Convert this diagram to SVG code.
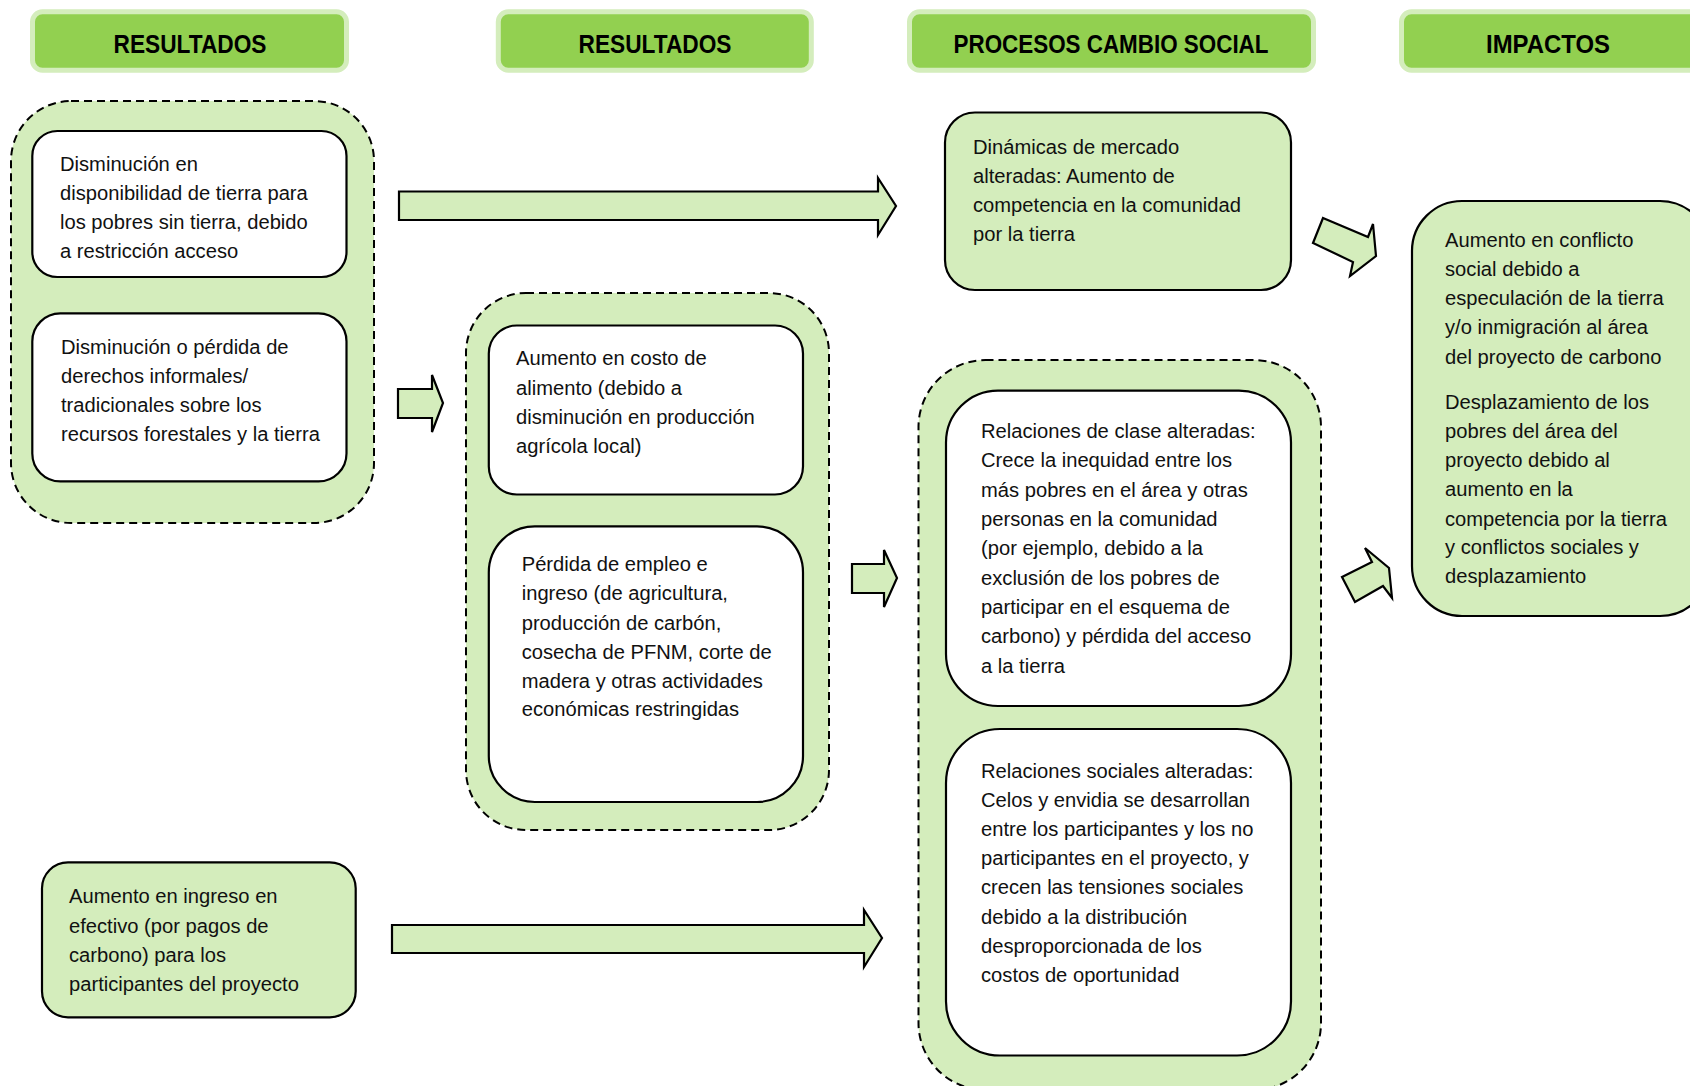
<svg xmlns="http://www.w3.org/2000/svg" width="1690" height="1086" viewBox="0 0 1690 1086">
<style>
.hdr{fill:#92D050;stroke:#D4EDBC;stroke-width:5}
.ht{font-family:"Liberation Sans",Arial,sans-serif;font-weight:bold;font-size:25px;fill:#000;text-anchor:middle}
.cont{fill:#D4EDBC;stroke:#000;stroke-width:2;stroke-dasharray:8 5}
.wb{fill:#FFFFFF;stroke:#000;stroke-width:2.2}
.gb{fill:#D4EDBC;stroke:#000;stroke-width:2.2}
.t{font-family:"Liberation Sans",Arial,sans-serif;font-size:20.8px;fill:#111}
.arr{fill:#D4EDBC;stroke:#000;stroke-width:2.2;stroke-linejoin:miter}
</style>
<rect width="1690" height="1086" fill="#FFFFFF"/>

<g id="header-resultados-1">
<rect class="hdr" x="32.5" y="11.8" width="314" height="58.4" rx="10"/>
<text class="ht" x="190" y="52.6" textLength="153" lengthAdjust="spacingAndGlyphs">RESULTADOS</text>
</g>
<g id="header-resultados-2">
<rect class="hdr" x="498.3" y="11.8" width="313" height="58.4" rx="10"/>
<text class="ht" x="655" y="52.6" textLength="153" lengthAdjust="spacingAndGlyphs">RESULTADOS</text>
</g>
<g id="header-procesos">
<rect class="hdr" x="909.5" y="11.8" width="404" height="58.4" rx="10"/>
<text class="ht" x="1111" y="52.6" textLength="315" lengthAdjust="spacingAndGlyphs">PROCESOS CAMBIO SOCIAL</text>
</g>
<g id="header-impactos">
<rect class="hdr" x="1401.5" y="11.8" width="310" height="58.4" rx="10"/>
<text class="ht" x="1548" y="52.6" textLength="124" lengthAdjust="spacingAndGlyphs">IMPACTOS</text>
</g>

<g id="group-resultados-1">
<rect class="cont" x="11" y="101" width="363" height="422" rx="60"/>
</g>
<g id="group-resultados-2">
<rect class="cont" x="466" y="293" width="363" height="537" rx="60"/>
</g>
<g id="group-procesos">
<rect class="cont" x="918.5" y="360" width="402.5" height="730" rx="67"/>
</g>

<g id="node-disminucion-tierra">
<rect class="wb" x="32.3" y="131" width="314.2" height="146" rx="25"/>
<g transform="matrix(0.97,0,0,1,1.8,0)">
<text class="t" x="60" y="171.4">Disminución en</text>
<text class="t" x="60" y="200.4">disponibilidad de tierra para</text>
<text class="t" x="60" y="229.3">los pobres sin tierra, debido</text>
<text class="t" x="60" y="258">a restricción acceso</text>
</g>
</g>
<g id="node-perdida-derechos">
<rect class="wb" x="32.3" y="313.4" width="314.2" height="168" rx="28"/>
<g transform="matrix(0.97,0,0,1,1.83,0)">
<text class="t" x="61" y="354">Disminución o pérdida de</text>
<text class="t" x="61" y="382.8">derechos informales/</text>
<text class="t" x="61" y="412">tradicionales sobre los</text>
<text class="t" x="61" y="441">recursos forestales y la tierra</text>
</g>
</g>
<g id="node-costo-alimento">
<rect class="wb" x="488.8" y="325.5" width="314.2" height="169" rx="28"/>
<g transform="matrix(0.97,0,0,1,15.48,0)">
<text class="t" x="516" y="365.3">Aumento en costo de</text>
<text class="t" x="516" y="394.8">alimento (debido a</text>
<text class="t" x="516" y="424.2">disminución en producción</text>
<text class="t" x="516" y="453">agrícola local)</text>
</g>
</g>
<g id="node-perdida-empleo">
<rect class="wb" x="488.8" y="526.4" width="314.2" height="275.6" rx="46"/>
<g transform="matrix(0.97,0,0,1,15.65,0)">
<text class="t" x="521.7" y="570.7">Pérdida de empleo e</text>
<text class="t" x="521.7" y="600">ingreso (de agricultura,</text>
<text class="t" x="521.7" y="629.6">producción de carbón,</text>
<text class="t" x="521.7" y="659">cosecha de PFNM, corte de</text>
<text class="t" x="521.7" y="687.8">madera y otras actividades</text>
<text class="t" x="521.7" y="716.4">económicas restringidas</text>
</g>
</g>
<g id="node-aumento-ingreso">
<rect class="gb" x="42" y="862.3" width="313.7" height="155" rx="26"/>
<g transform="matrix(0.97,0,0,1,2.07,0)">
<text class="t" x="69" y="903">Aumento en ingreso en</text>
<text class="t" x="69" y="932.6">efectivo (por pagos de</text>
<text class="t" x="69" y="962">carbono) para los</text>
<text class="t" x="69" y="990.8">participantes del proyecto</text>
</g>
</g>
<g id="node-dinamicas-mercado">
<rect class="gb" x="945" y="112.5" width="346" height="177.5" rx="30"/>
<g transform="matrix(0.97,0,0,1,29.19,0)">
<text class="t" x="973" y="154">Dinámicas de mercado</text>
<text class="t" x="973" y="183.5">alteradas: Aumento de</text>
<text class="t" x="973" y="212.5">competencia en la comunidad</text>
<text class="t" x="973" y="241.5">por la tierra</text>
</g>
</g>
<g id="node-relaciones-clase">
<rect class="wb" x="946" y="390.6" width="345" height="315.4" rx="52"/>
<g transform="matrix(0.97,0,0,1,29.43,0)">
<text class="t" x="981" y="438">Relaciones de clase alteradas:</text>
<text class="t" x="981" y="467.5">Crece la inequidad entre los</text>
<text class="t" x="981" y="497">más pobres en el área y otras</text>
<text class="t" x="981" y="526.4">personas en la comunidad</text>
<text class="t" x="981" y="555.5">(por ejemplo, debido a la</text>
<text class="t" x="981" y="584.8">exclusión de los pobres de</text>
<text class="t" x="981" y="614">participar en el esquema de</text>
<text class="t" x="981" y="643.4">carbono) y pérdida del acceso</text>
<text class="t" x="981" y="673">a la tierra</text>
</g>
</g>
<g id="node-relaciones-sociales">
<rect class="wb" x="946" y="729" width="345" height="326.5" rx="54"/>
<g transform="matrix(0.97,0,0,1,29.43,0)">
<text class="t" x="981" y="777.8">Relaciones sociales alteradas:</text>
<text class="t" x="981" y="806.8">Celos y envidia se desarrollan</text>
<text class="t" x="981" y="835.8">entre los participantes y los no</text>
<text class="t" x="981" y="865">participantes en el proyecto, y</text>
<text class="t" x="981" y="894.5">crecen las tensiones sociales</text>
<text class="t" x="981" y="924">debido a la distribución</text>
<text class="t" x="981" y="953">desproporcionada de los</text>
<text class="t" x="981" y="982">costos de oportunidad</text>
</g>
</g>
<g id="node-impactos">
<rect class="gb" x="1412" y="201" width="298" height="415" rx="50"/>
<g transform="matrix(0.97,0,0,1,43.35,0)">
<text class="t" x="1445" y="246.6">Aumento en conflicto</text>
<text class="t" x="1445" y="275.8">social debido a</text>
<text class="t" x="1445" y="305">especulación de la tierra</text>
<text class="t" x="1445" y="334.3">y/o inmigración al área</text>
<text class="t" x="1445" y="363.6">del proyecto de carbono</text>
<text class="t" x="1445" y="408.6">Desplazamiento de los</text>
<text class="t" x="1445" y="438">pobres del área del</text>
<text class="t" x="1445" y="467.3">proyecto debido al</text>
<text class="t" x="1445" y="496.5">aumento en la</text>
<text class="t" x="1445" y="525.7">competencia por la tierra</text>
<text class="t" x="1445" y="554.5">y conflictos sociales y</text>
<text class="t" x="1445" y="583.5">desplazamiento</text>
</g>
</g>

<g id="connectors">
<polygon class="arr" points="399,191.5 878,191.5 878,178 896,206 878,235 878,220 399,220"/>
<polygon class="arr" points="398,389 432,389 432,375 443,403 432,432 432,418 398,418"/>
<polygon class="arr" points="852,564 884,564 884,550 897,578 884,607 884,593 852,593"/>
<polygon class="arr" points="392,925 864,925 864,910 882,938 864,967 864,953 392,953"/>
<polygon class="arr" points="1323,218 1368,237 1373,224 1376,256 1350,276 1353,262 1313,243"/>
<polygon class="arr" points="1342,577 1372,562 1365,548 1389,568 1392,598 1383,586 1355,602"/>
</g>
</svg>
